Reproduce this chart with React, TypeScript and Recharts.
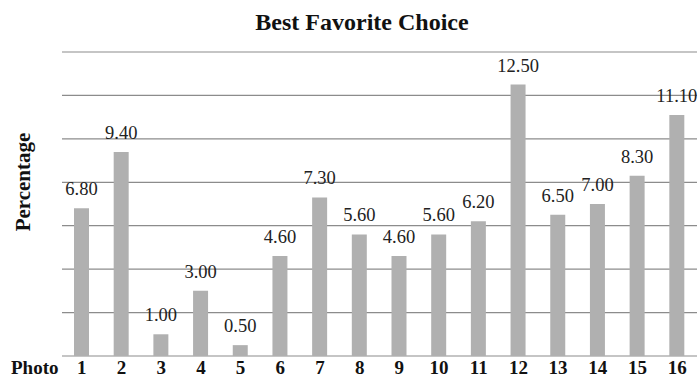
import { BarChart, Bar, XAxis, YAxis, CartesianGrid, LabelList } from 'recharts'

const photos = ['1', '2', '3', '4', '5', '6', '7', '8', '9', '10', '11', '12', '13', '14', '15', '16']
const percentages = [6.8, 9.4, 1.0, 3.0, 0.5, 4.6, 7.3, 5.6, 4.6, 5.6, 6.2, 12.5, 6.5, 7.0, 8.3, 11.1]
const yTicks = [0, 2, 4, 6, 8, 10, 12, 14]

const data = photos.map((p, i) => ({ photo: p, value: percentages[i] }))

const serif = 'Liberation Serif, Times New Roman, serif'

// value above each bar, drawn as plain svg text so the serif font sticks
const ValueLabel = (props: any) => {
  const { x, y, width, value } = props
  return (
    <text
      x={Number(x) + Number(width) / 2}
      y={Number(y) - 13}
      textAnchor="middle"
      style={{ fontFamily: serif, fontSize: 18.5, fill: '#222' }}
    >
      {Number(value).toFixed(2)}
    </text>
  )
}

const PhotoTick = (props: any) => {
  const { x, y, payload } = props
  return (
    <text x={x} y={Number(y) + 14} textAnchor="middle" style={{ fontFamily: serif, fontSize: 19, fontWeight: 'bold', fill: '#111' }}>
      {payload.value}
    </text>
  )
}

export default function App() {
  return (
    <div style={{ position: 'absolute', left: 0, top: 0, width: 699, height: 385, background: '#fff', fontFamily: serif }}>
      <div
        style={{
          position: 'absolute', left: 0, top: 7, width: 724, textAlign: 'center',
          fontSize: 24, fontWeight: 'bold', color: '#111', lineHeight: '30px',
        }}
      >
        Best Favorite Choice
      </div>
      <div
        style={{
          position: 'absolute', left: 23, top: 182, transform: 'translate(-50%, -50%) rotate(-90deg)',
          fontSize: 21, fontWeight: 'bold', color: '#111', whiteSpace: 'nowrap',
        }}
      >
        Percentage
      </div>
      <div style={{ position: 'absolute', left: 11, top: 357, fontSize: 19, fontWeight: 'bold', color: '#111' }}>
        Photo
      </div>
      <BarChart width={699} height={385} data={data} margin={{ top: 52, right: 2, bottom: 0, left: 62 }} barCategoryGap={0}>
        <CartesianGrid vertical={false} stroke="#8c8c8c" strokeWidth={1.2} />
        <YAxis hide domain={[0, 14]} ticks={yTicks} />
        <XAxis
          dataKey="photo"
          height={29}
          axisLine={false}
          tickLine={false}
          tickSize={0}
          tickMargin={4}
          interval={0}
          tick={<PhotoTick />}
        />
        <Bar dataKey="value" fill="#b0b0b0" barSize={15} isAnimationActive={false}>
          <LabelList dataKey="value" content={<ValueLabel />} />
        </Bar>
      </BarChart>
    </div>
  )
}
